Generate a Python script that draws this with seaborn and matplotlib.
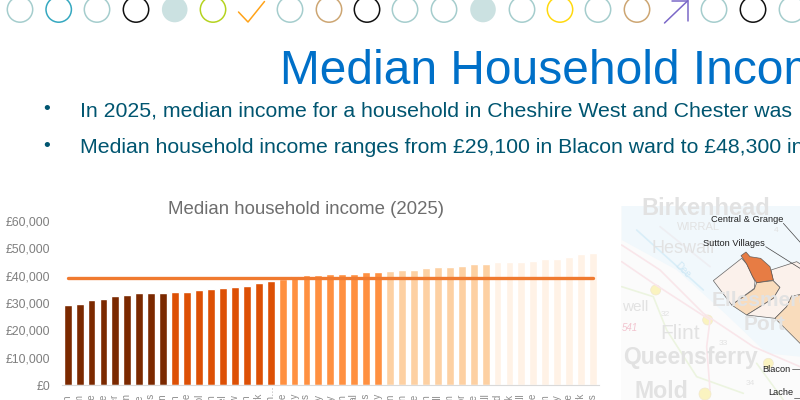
import matplotlib
matplotlib.use("Agg")
import matplotlib.pyplot as plt
from matplotlib.patches import Circle, Polygon, Rectangle
from matplotlib.transforms import ScaledTranslation
import seaborn as sns
import pandas as pd

# ward names are only visible as their last letters in the reference
wards = ["Blacon", "Wolverham", "Central & Grange", "Lache", "Westminster", "Winsford Wharton",
         "Grove", "St Pauls", "Over & Verdin", "Leftwich", "Winsford Dene", "Netherpool",
         "Neath", "Gravel", "Swanlow", "Witton", "Whitby Park", "Little Neston…",
         "Ledsham Vale", "Rudheath Valley", "Whitby Groves", "Strawberry", "Marbury", "Upton",
         "Gowy Rural", "Hartford Acres", "Sandy Abbey", "Boughton", "Mollington", "Hoole",
         "Newton", "Saughall", "Davenham", "Manor", "Handbridge", "Tattenhall Hall",
         "Greenland", "Greenbank", "Malpas Hall", "Christleton Gate", "Frodsham", "Tarporley",
         "Helsby Grange", "Parkgate Park", "Sutton Villages"]
incomes = [29100, 29800, 31200, 31400, 32600, 32900, 33600, 33500, 33700,
           33900, 34200, 34900, 35300, 35400, 35800, 36100, 37500, 38100,
           38700, 40000, 40200, 40300, 40500, 40500, 40700, 41200, 41500,
           41800, 42000, 42200, 42700, 43000, 43200, 43700, 44100, 44300,
           45100, 45100, 45100, 45400, 46100, 46100, 46800, 48000, 48300]
quintiles = ["q1"] * 9 + ["q2"] * 9 + ["q3"] * 9 + ["q4"] * 9 + ["q5"] * 9
quintile_colours = {"q1": "#7b2900", "q2": "#dd5005", "q3": "#ff9040", "q4": "#fdd0a2", "q5": "#fff2e6"}
district_median = 39300
y_ticks = [0, 10000, 20000, 30000, 40000, 50000, 60000]

title = "Median Household Income"
bullets = ["In 2025, median income for a household in Cheshire West and Chester was",
           "Median household income ranges from £29,100 in Blacon ward to £48,300 in"]

sns.set_style("white")
plt.rcParams["font.family"] = ["Liberation Sans", "DejaVu Sans"]

fig = plt.figure(figsize=(8, 4), dpi=100)

# overlay in pixel coords for the slide furniture
bg = fig.add_axes([0, 0, 1, 1])
bg.set_xlim(0, 800)
bg.set_ylim(400, 0)
bg.axis("off")

PALE = "#a5cdcd"
rings = [(20, PALE), (58.7, "#35a8c0"), (97, PALE), (136, "#111111"), (174.7, "fill"), (213, "#b5d320"),
         (290, PALE), (329, "#cda673"), (367, "#111111"), (405, PALE), (444, PALE), (483, "fill"),
         (522, PALE), (560, "#ffd90f"), (598, PALE), (637, "#cda673"), (714, PALE), (753, "#111111"),
         (792, PALE)]
for cx, col in rings:
    if col == "fill":
        bg.add_patch(Circle((cx, 9.5), 12.8, fc="#cbe1e1", ec="none"))
    else:
        bg.add_patch(Circle((cx, 9.5), 12.7, fc="none", ec=col, lw=1.1))
bg.plot([238.5, 248, 264.5], [12, 22, 1.5], color="#ffa319", lw=1.1)
bg.plot([664.5, 688], [23, 0.5], color="#7b68c8", lw=1.1)
bg.plot([672, 688, 688], [0.5, 0.5, 21], color="#7b68c8", lw=1.1)

bg.text(280, 71, title, fontsize=34.5, color="#0070c8", va="center", ha="left")
for y, line in zip([111, 147.5], bullets):
    bg.text(47, y - 1, "•", fontsize=14, color="#005570", va="center", ha="center")
    bg.text(80, y, line, fontsize=15.3, color="#005570", va="center", ha="left")
bg.text(305.5, 210, "Median household income (2025)", fontsize=13.4, color="#6e6e6e", va="center", ha="center")

# map panel
map_box = Rectangle((621, 206), 179, 194, fc="#fbfbfb", ec="none")
bg.add_patch(map_box)


def zm(points):
    return [(610 + x / 3, 190 + y / 3) for x, y in points]


water = Polygon(zm([(35, 48), (570, 48), (570, 500), (470, 490), (350, 375), (200, 240), (35, 150)]),
                fc="#f1f8fc", ec="none")
bg.add_patch(water)
road_lines = [([(35, 165), (150, 240), (280, 370), (430, 470), (570, 530)], "#f9e6ea"),
              ([(35, 290), (130, 320), (170, 420), (260, 560), (400, 610)], "#ecf4e0"),
              ([(35, 215), (130, 280), (300, 390), (290, 470), (300, 600)], "#f9e6ea"),
              ([(440, 520), (520, 630)], "#ecf4e0"),
              ([(150, 110), (300, 230)], "#eeeef2"),
              ([(80, 120), (280, 300)], "#d9eef8")]
for pts, col in road_lines:
    xy = zm(pts)
    ln, = bg.plot([p[0] for p in xy], [p[1] for p in xy], color=col, lw=1.2)
    ln.set_clip_path(map_box)
for zx, zy, r in [(137, 300, 5), (293, 390, 5), (475, 520, 5), (285, 612, 6)]:
    x, y = zm([(zx, zy)])[0]
    bg.add_patch(Circle((x, y), r, fc="#faf3c0", ec="#f0e8d0", lw=0.5))
faint = [("Birkenhead", 95, 55, 17, "bold"), ("Heswall", 125, 175, 13, "normal"), ("Flint", 152, 430, 15, "normal"),
         ("Queensferry", 38, 503, 16.5, "bold"), ("Mold", 72, 605, 16.7, "bold"), ("Ellesmere", 305, 330, 15, "bold"),
         ("Port", 400, 405, 15, "bold"), ("well", 35, 352, 11, "normal"), ("WIRRAL", 200, 110, 8, "normal"),
         ("32", 152, 372, 6, "normal"), ("33", 325, 460, 6, "normal"), ("34", 408, 580, 6, "normal"), ("4", 492, 120, 6, "normal")]
for txt, zx, zy, fs, wt in faint:
    x, y = zm([(zx, zy)])[0]
    t = bg.text(x, y, txt, fontsize=fs, fontweight=wt, color="#e2e2e2", va="center", ha="left")
    t.set_clip_path(map_box)
x, y = zm([(35, 415)])[0]
bg.text(x, y, "541", fontsize=7, style="italic", color="#f2c4cf", va="center", ha="left")
x, y = zm([(190, 240)])[0]
bg.text(x, y, "Dee", fontsize=7, color="#cfe8f5", rotation=-45, va="center", ha="left")

ward_shapes = [([(310, 272), (395, 205), (410, 222), (435, 275), (433, 295), (365, 345)], "#fdf1ea"),
               ([(365, 345), (433, 297), (440, 278), (490, 272), (510, 292), (490, 325), (410, 375)], "#fbd9b5"),
               ([(410, 375), (490, 325), (510, 292), (490, 272), (483, 240), (560, 215), (600, 240), (600, 310),
                 (545, 318), (530, 350), (495, 385)], "#fdf1ea"),
               ([(495, 385), (530, 350), (545, 318), (600, 310), (600, 490), (570, 460)], "#fbd9b5"),
               ([(393, 197), (408, 186), (420, 200), (452, 205), (480, 230), (490, 270), (440, 278), (428, 260),
                 (410, 222)], "#e66f30")]
for pts, col in ward_shapes:
    p = Polygon(zm(pts), fc=col, ec="#555555", lw=0.5, alpha=0.9)
    bg.add_patch(p)
    p.set_clip_path(map_box)
for txt, zx, zy in [("Central & Grange", 302, 87), ("Sutton Villages", 280, 160), ("Blacon", 458, 537), ("Lache", 475, 607)]:
    x, y = zm([(zx, zy)])[0]
    bg.text(x, y, txt, fontsize=6.7, color="#222222", va="center", ha="left")
for a, b in [((520, 100), (600, 190)), ((467, 170), (570, 235)), ((545, 537), (600, 537)), ((552, 625), (600, 625))]:
    xy = zm([a, b])
    ln, = bg.plot([xy[0][0], xy[1][0]], [xy[0][1], xy[1][1]], color="#444444", lw=0.5)
    ln.set_clip_path(map_box)

# bar chart
ax = fig.add_axes([61.7 / 800, 15 / 400, 537.3 / 800, 164 / 400])
ax.patch.set_alpha(0)
df = pd.DataFrame({"ward": wards, "income": incomes, "quintile": quintiles})
sns.barplot(data=df, x="ward", y="income", hue="quintile", palette=quintile_colours, dodge=False,
            width=0.66, saturation=1, legend=False, ax=ax)
sns.lineplot(x=range(len(wards)), y=[district_median] * len(wards), color="#f07a30", lw=2.4, ax=ax)
ax.set_xlim(-0.5, 44.5)
ax.set_ylim(0, 60000)
ax.set_yticks(y_ticks)
ax.set_yticklabels([f"£{v:,}" for v in y_ticks], color="#7f7f7f", fontsize=8.8)
ax.tick_params(axis="y", length=0, pad=8.5)
ax.tick_params(axis="x", length=0, pad=6.5, labelrotation=90, labelsize=7, labelcolor="#8c8c8c")
ax.set_xlabel("")
ax.set_ylabel("")
sns.despine(ax=ax, left=True)
ax.spines["bottom"].set_color("#d9d9d9")
# the truncated label pokes up to the axis line
long_label = ax.get_xticklabels()[17]
long_label.set_transform(long_label.get_transform() + ScaledTranslation(0, 8 / 100, fig.dpi_scale_trans))

fig.savefig("out.png", dpi=100)
